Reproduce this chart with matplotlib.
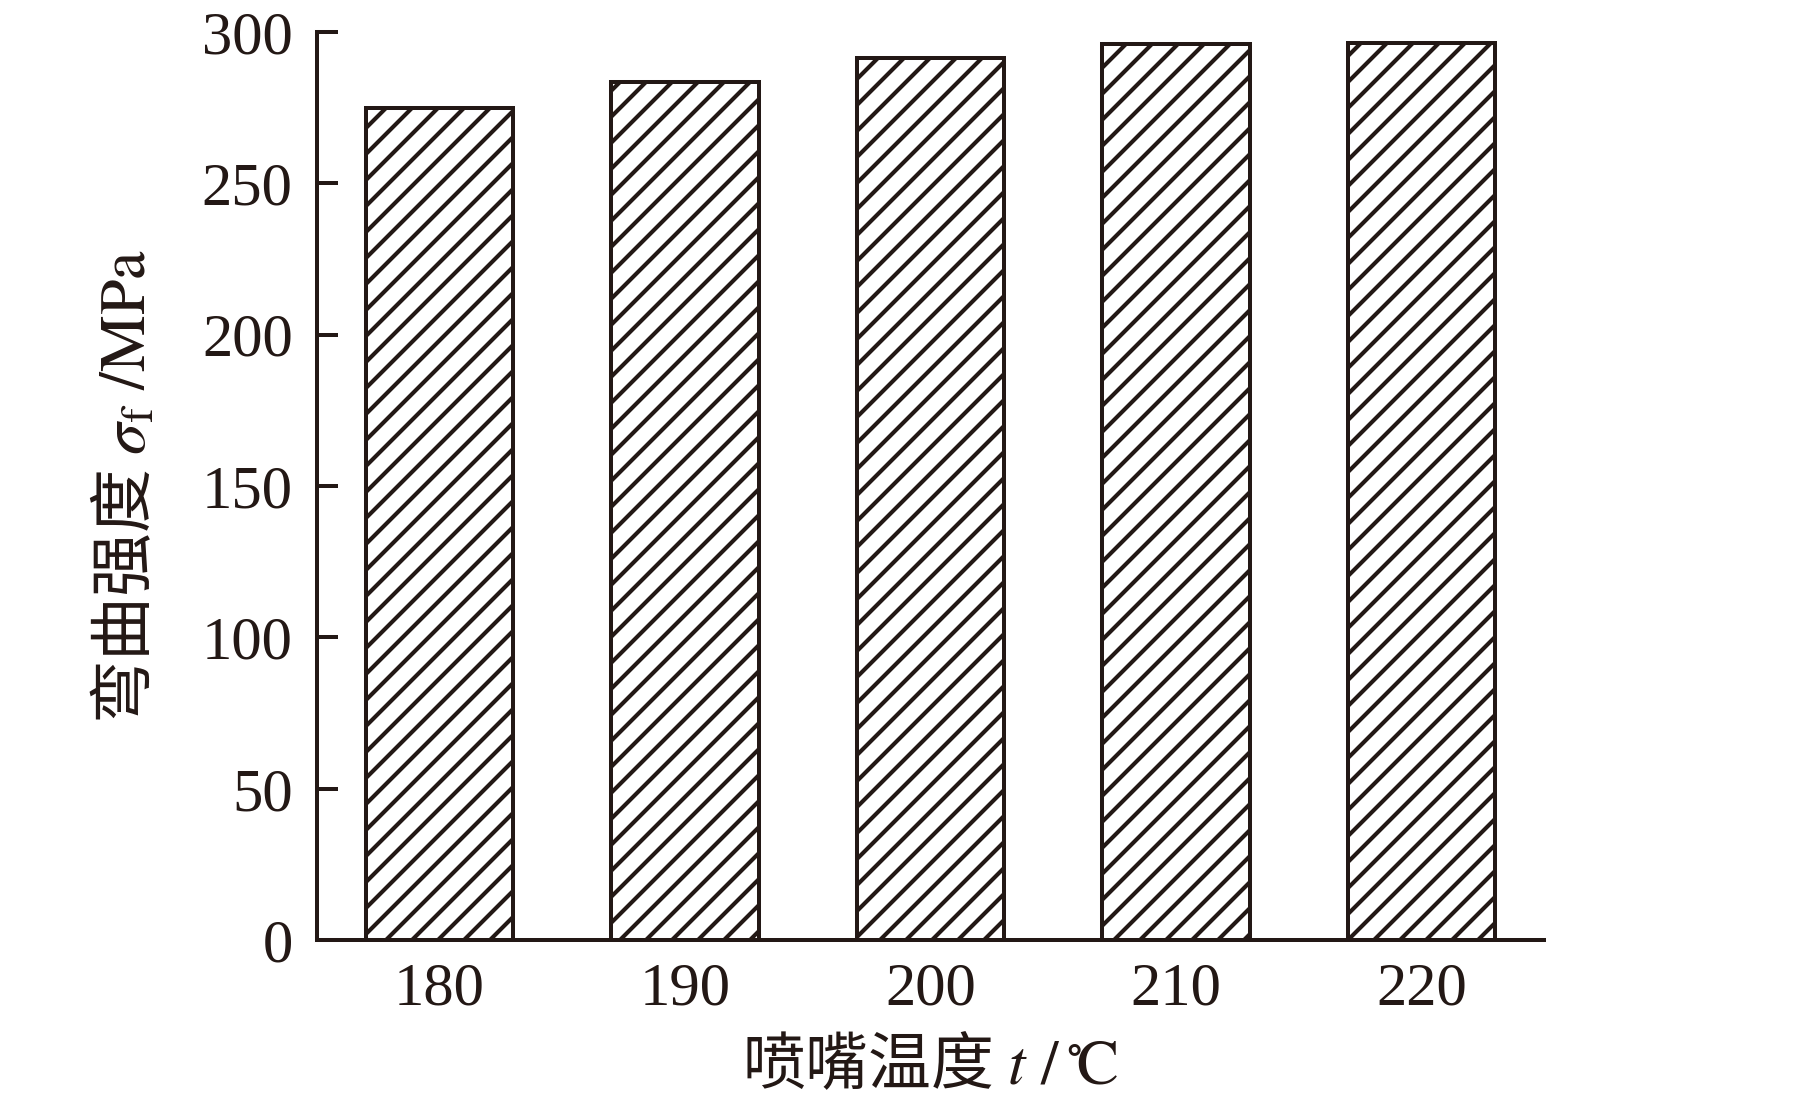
import matplotlib
matplotlib.use("Agg")
import matplotlib.pyplot as plt
import numpy as np

temps = ["180", "190", "200", "210", "220"]
strength = [275, 283.5, 291.5, 296, 296.5]
y_ticks = [0, 50, 100, 150, 200, 250, 300]

plt.rcParams["font.family"] = ["Liberation Serif", "Noto Sans CJK SC"]
plt.rcParams["mathtext.fontset"] = "stix"
plt.rcParams["hatch.linewidth"] = 1.9
plt.rcParams["hatch.color"] = "#231815"

INK = "#231815"
DPI = 156
fig = plt.figure(figsize=(1819 / DPI, 1106 / DPI), dpi=DPI)
ax = fig.add_axes([0.174, 0.150, 0.675, 0.821])

x = np.arange(len(temps))
ax.bar(x, strength, width=0.6, facecolor="white", edgecolor=INK,
       linewidth=1.85, hatch="//", zorder=2)

ax.set_xlim(-0.5, 4.5)
ax.set_ylim(0, 300)
ax.set_xticks(x)
ax.set_xticklabels(temps)
ax.set_yticks(y_ticks)

for side in ["top", "right"]:
    ax.spines[side].set_visible(False)
for side in ["left", "bottom"]:
    ax.spines[side].set_linewidth(1.85)
    ax.spines[side].set_color(INK)

ax.tick_params(axis="y", direction="in", length=9.5, width=1.85,
               labelsize=28, pad=11, colors=INK)
ax.tick_params(axis="x", direction="in", length=7, width=1.85,
               labelsize=28, pad=10, colors=INK)

# non-math parts use the CJK font, math parts use stix (Times-like)
ax.set_xlabel("喷嘴温度 $t\\ /\\,{}^{\\circ}\\!\\mathrm{C}$", fontsize=29,
              color=INK, labelpad=8, family="Noto Sans CJK SC")
ax.set_ylabel("弯曲强度 $\\sigma_{\\mathrm{f}}\\ /\\mathrm{MPa}$", fontsize=29.5,
              color=INK, labelpad=19, family="Noto Sans CJK SC")

fig.savefig("out.png", dpi=DPI)
